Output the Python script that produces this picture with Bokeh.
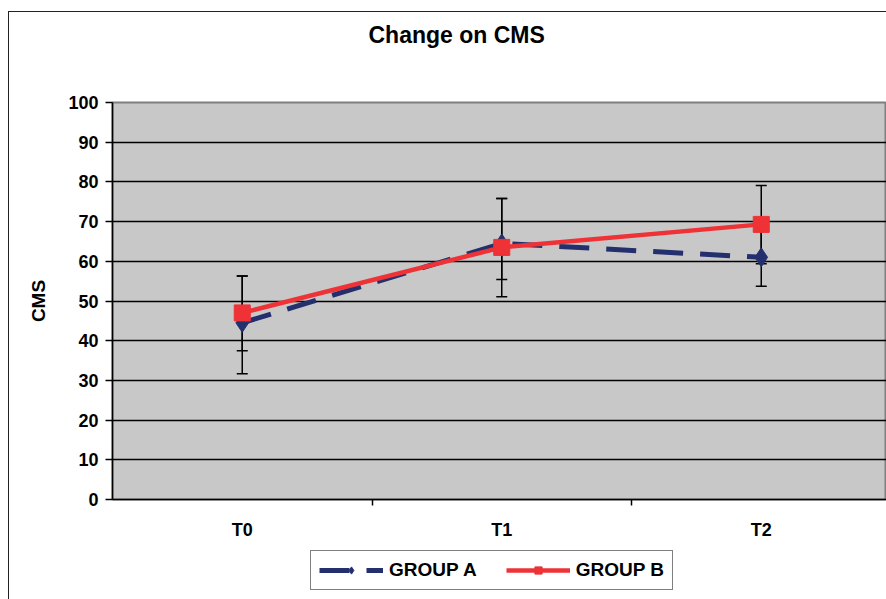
from bokeh.plotting import figure
from bokeh.layouts import column
from bokeh.models import (ColumnDataSource, Whisker, TeeHead, FixedTicker, Legend,
                          LegendItem, Range1d, Title, InlineStyleSheet)
from bokeh.embed import file_html
from bokeh.resources import INLINE

# ---- data ----
categories = ["T0", "T1", "T2"]
group_a = [44.5, 64.5, 61.0]
group_b = [47.0, 63.5, 69.3]
group_a_lower = [31.7, 55.4, 53.7]
group_a_upper = [56.3, 75.8, 68.3]
group_b_lower = [37.5, 51.1, 59.4]
group_b_upper = [56.3, 75.8, 79.1]
y_ticks = [0, 10, 20, 30, 40, 50, 60, 70, 80, 90, 100]
series_names = ["GROUP A", "GROUP B"]
chart_title = "Change on CMS"
y_label = "CMS"

FONT = "Liberation Sans"
NAVY = "#24306e"
RED = "#ee3236"

x_pos = [i + 0.5 for i in range(len(categories))]
boundaries = [i for i in range(1, len(categories) + 1)]

src_a = ColumnDataSource(dict(x=x_pos, y=group_a, lower=group_a_lower, upper=group_a_upper))
src_b = ColumnDataSource(dict(x=x_pos, y=group_b, lower=group_b_lower, upper=group_b_upper))

# ---------------- main chart ----------------
p = figure(width=886, height=543, output_backend="svg", toolbar_location=None,
           title=None,
           x_range=Range1d(0, 774 / 259.5), y_range=Range1d(0, 100),
           min_border_left=112, min_border_right=0, min_border_top=102, min_border_bottom=44,
           background_fill_color="#c8c8c8", border_fill_color="white")

# spacer between the title and the plot area, then the title itself
p.add_layout(Title(text=" ", text_font=FONT, text_font_size="43px", standoff=0), "above")
p.add_layout(Title(text=chart_title, align="left", offset=256, text_font=FONT,
                   text_font_size="23px", text_font_style="bold", text_color="black",
                   standoff=10), "above")

p.outline_line_color = "#7f7f7f"
p.outline_line_width = 2

p.xgrid.visible = False
p.ygrid.ticker = FixedTicker(ticks=y_ticks[1:-1])
p.ygrid.grid_line_color = "black"
p.ygrid.grid_line_width = 1.5

# error bars
for src in (src_a, src_b):
    w = Whisker(base="x", lower="lower", upper="upper", source=src, dimension="height",
                line_color="black", line_width=1.5,
                upper_head=TeeHead(size=11, line_color="black", line_width=1.5),
                lower_head=TeeHead(size=11, line_color="black", line_width=1.5))
    p.add_layout(w)

style_a = dict(line_color=NAVY, line_width=5, line_dash="30 17")
style_b = dict(line_color=RED, line_width=4.5)
mark_a = dict(marker="diamond", size=19, fill_color=NAVY, line_color=NAVY)
mark_b = dict(marker="square", size=16, fill_color=RED, line_color=RED)

p.line("x", "y", source=src_a, **style_a)
p.line("x", "y", source=src_b, **style_b)
p.scatter("x", "y", source=src_a, **mark_a)
p.scatter("x", "y", source=src_b, **mark_b)

# y axis
ya = p.yaxis[0]
ya.ticker = FixedTicker(ticks=y_ticks)
ya.axis_line_color = "black"
ya.axis_line_width = 1.5
ya.major_tick_line_color = "black"
ya.major_tick_line_width = 1.5
ya.major_tick_out = 7
ya.major_tick_in = 0
ya.minor_tick_line_color = None
ya.major_label_text_font = FONT
ya.major_label_text_font_style = "bold"
ya.major_label_text_font_size = "18px"
ya.major_label_text_color = "black"
ya.major_label_standoff = 7
ya.axis_label = y_label
ya.axis_label_text_font = FONT
ya.axis_label_text_font_style = "bold"
ya.axis_label_text_font_size = "19px"
ya.axis_label_text_color = "black"
ya.axis_label_standoff = 16

# x axis
xa = p.xaxis[0]
xa.ticker = FixedTicker(ticks=x_pos, minor_ticks=boundaries)
xa.major_label_overrides = {xv: c for xv, c in zip(x_pos, categories)}
xa.axis_label = None
xa.axis_line_color = "black"
xa.axis_line_width = 1.5
xa.major_tick_line_color = None
xa.major_tick_out = 0
xa.major_tick_in = 0
xa.minor_tick_line_color = "black"
xa.minor_tick_line_width = 1.5
xa.minor_tick_out = 6
xa.minor_tick_in = 0
xa.major_label_text_font = FONT
xa.major_label_text_font_style = "bold"
xa.major_label_text_font_size = "18px"
xa.major_label_text_color = "black"
xa.major_label_standoff = 14

# ---------------- legend strip below the chart ----------------
lf = figure(width=886, height=56, output_backend="svg", toolbar_location=None,
            title=None, x_axis_location=None, y_axis_location=None,
            x_range=Range1d(100, 101), y_range=Range1d(100, 101),
            min_border_left=0, min_border_right=0, min_border_top=0, min_border_bottom=0,
            outline_line_color=None, background_fill_color="white", border_fill_color="white")
lf.grid.visible = False
la = lf.line("x", "y", source=src_a, **style_a)
lb = lf.line("x", "y", source=src_b, **style_b)
sa = lf.scatter("x", "y", source=src_a, **mark_a)
sb = lf.scatter("x", "y", source=src_b, **mark_b)

legend = Legend(items=[LegendItem(label=series_names[0], renderers=[la, sa]),
                       LegendItem(label=series_names[1], renderers=[lb, sb])],
                orientation="horizontal", location=(198, 9),
                border_line_color="black", border_line_width=1.5,
                background_fill_color="white",
                label_text_font=FONT, label_text_font_style="bold", label_text_font_size="19px",
                label_text_color="black", label_height=18,
                glyph_width=64, glyph_height=18, label_standoff=6, spacing=29,
                padding=8, margin=0)
lf.add_layout(legend, "center")

layout = column(p, lf, spacing=0)
# outer chart border (top and left edges only), drawn as an overlay
layout.stylesheets = [InlineStyleSheet(css=(
    ":host { position: relative; }"
    ":host::after { content: ''; position: absolute; left: 8px; top: 11px; right: 0px;"
    " bottom: 0px; border-top: 1.5px solid #222222; border-left: 1.5px solid #222222;"
    " pointer-events: none; }"))]

open("out.html", "w").write(file_html(layout, INLINE))
